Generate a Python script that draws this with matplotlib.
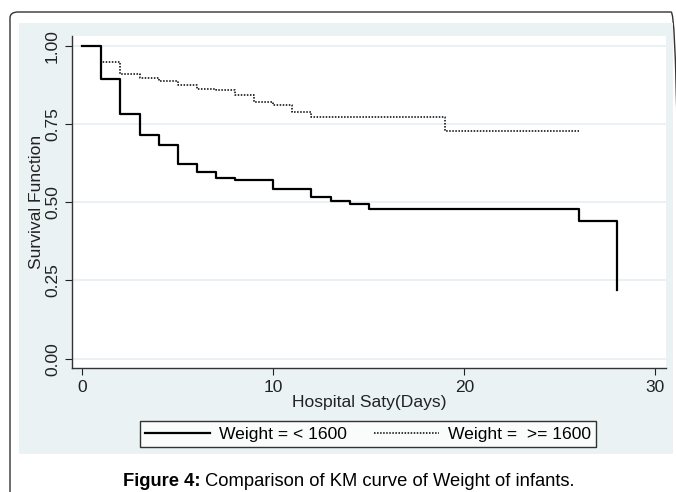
import matplotlib.pyplot as plt
from matplotlib.patches import FancyBboxPatch, Rectangle

plt.rcParams['font.family'] = ['Liberation Sans', 'DejaVu Sans']

# Kaplan-Meier step data
days_low = [0, 1, 2, 3, 4, 5, 6, 7, 8, 10, 12, 13, 14, 15, 26, 28]
surv_low = [1.0, 0.893, 0.781, 0.716, 0.682, 0.623, 0.598, 0.579, 0.572,
            0.542, 0.517, 0.504, 0.494, 0.478, 0.441, 0.22]

days_high = [0, 1, 2, 3, 4, 5, 6, 7, 8, 9, 10, 11, 12, 19, 26]
surv_high = [1.0, 0.948, 0.909, 0.898, 0.889, 0.876, 0.864, 0.859, 0.843,
             0.822, 0.811, 0.788, 0.774, 0.729, 0.729]

xticks = [0, 10, 20, 30]
yticks = [0.0, 0.25, 0.5, 0.75, 1.0]
ytick_labels = ['0.00', '0.25', '0.50', '0.75', '1.00']

W, H = 676, 492
fig = plt.figure(figsize=(W / 100, H / 100), dpi=100)

# outer rounded frame and light background panel
fig.patches.append(FancyBboxPatch((10 / W, -0.05), 0.99, (H - 12) / H + 0.05,
                                  boxstyle='round,pad=0,rounding_size=0.012',
                                  transform=fig.transFigure, fill=False,
                                  edgecolor='#333333', linewidth=1.0, zorder=-3))
fig.patches.append(Rectangle((19 / W, 1 - 454 / H), (673 - 19) / W, (454 - 23) / H,
                             transform=fig.transFigure, facecolor='#eaf2f3',
                             edgecolor='none', zorder=-2))

ax = fig.add_axes([71.7 / W, 1 - 367.7 / H, (666 - 71.7) / W, (367.7 - 35.7) / H])
ax.set_facecolor('white')

ax.step(days_low, surv_low, where='post', color='black', linewidth=1.6,
        label='Weight = < 1600')
ax.step(days_high, surv_high, where='post', color='black', linewidth=1.1,
        linestyle=(0, (1, 1)), label='Weight =  >= 1600')

ax.set_xlim(-0.55, 30.56)
ax.set_ylim(-0.029, 1.033)
ax.set_xticks(xticks)
ax.set_yticks(yticks)
ax.set_yticklabels(ytick_labels, rotation=90, va='center')
ax.tick_params(axis='both', labelsize=12.5, colors='#222222', length=5, width=0.8)
ax.grid(axis='y', color='#e6eef1', linewidth=1.2)
ax.set_axisbelow(True)
for s in ['top', 'right']:
    ax.spines[s].set_visible(False)
for s in ['left', 'bottom']:
    ax.spines[s].set_color('#333333')
    ax.spines[s].set_linewidth(1.0)

ax.set_xlabel('Hospital Saty(Days)', fontsize=12.6, labelpad=0, color='#222222')
ax.set_ylabel('Survival Function', fontsize=12.6, labelpad=1, color='#222222')

leg = ax.legend(loc='center', bbox_to_anchor=(368 / W, 1 - 434 / H),
                bbox_transform=fig.transFigure, ncol=2,
                fontsize=12.6, frameon=True, fancybox=False, edgecolor='black',
                handlelength=3.7, handletextpad=0.5, columnspacing=1.6,
                borderpad=0.3, borderaxespad=0)
leg.get_frame().set_linewidth(1.0)

# caption: bold label followed by regular text
r = fig.canvas.get_renderer()
t1 = fig.text(0, 1 - 482 / H, 'Figure 4:', fontsize=13.2, fontweight='bold',
              ha='left', va='center')
t2 = fig.text(0, 1 - 482 / H, ' Comparison of KM curve of Weight of infants.',
              fontsize=13.2, ha='left', va='center')
w1 = t1.get_window_extent(r).width
w2 = t2.get_window_extent(r).width
x0 = 349 - (w1 + w2) / 2
t1.set_x(x0 / W)
t2.set_x((x0 + w1) / W)

fig.savefig('out.png', dpi=100)
